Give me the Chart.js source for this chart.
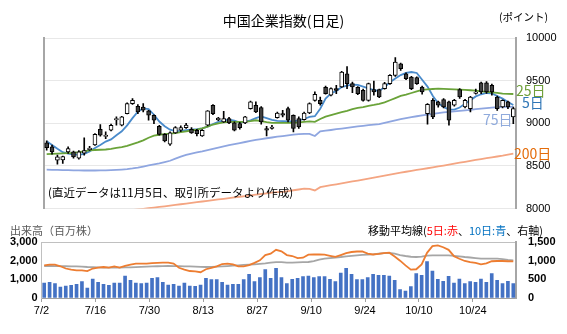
<!DOCTYPE html>
<html lang="ja">
<head>
<meta charset="utf-8">
<script src="https://cdn.jsdelivr.net/npm/chart.js@4.4.1/dist/chart.umd.min.js"></script>
<style>
  body { margin: 0; width: 567px; height: 334px; background: #fff; position: relative; overflow: hidden;
         font-family: "Noto Sans CJK JP", "Liberation Sans", sans-serif; }
  canvas { position: absolute; left: 0; }
  #priceChart { top: 0; }
  #volChart { top: 215px; }
  .txt { position: absolute; white-space: nowrap; }
</style>
</head>
<body>
<canvas id="priceChart" width="567" height="230"></canvas>
<canvas id="volChart" width="567" height="119"></canvas>

<div class="txt" style="left:0;width:567px;text-align:center;top:12px;font-size:14px;line-height:17px;color:#000;">中国企業指数(日足)</div>
<div class="txt" style="left:499px;top:10px;font-size:10.5px;line-height:13px;color:#000;">(ポイント)</div>
<div class="txt" style="left:48px;top:185px;font-size:11.5px;line-height:14px;color:#000;">(直近データは11月5日、取引所データより作成)</div>
<div class="txt" style="left:516px;top:82px;font-size:14px;line-height:16px;color:#6f9f3a;">25日</div>
<div class="txt" style="left:522px;top:94px;font-size:14px;line-height:16px;color:#2e75b6;">5日</div>
<div class="txt" style="left:483px;top:111px;font-size:14px;line-height:16px;color:#8faadc;">75日</div>
<div class="txt" style="left:514px;top:145px;font-size:14px;line-height:16px;color:#e46c0a;">200日</div>
<div class="txt" style="left:10px;top:223px;font-size:11px;line-height:14px;color:#595959;">出来高（百万株）</div>
<div class="txt" style="left:368px;top:223px;font-size:11px;line-height:14px;color:#000;">移動平均線(<span style="color:#ff0000">5日:赤</span>、<span style="color:#0070c0">10日:青</span>、右軸)</div>

<script>
// 日付目盛（10営業日ごと）
const tickLabels = ['7/2', '7/16', '7/30', '8/13', '8/27', '9/10', '9/24', '10/10', '10/24'];
const DAYS = 88;

// ローソク足
const opens = [8770,8723,8567,8570,8665,8665,8590,8650,8690,8745,8930,8845,8918,9040,8977,9113,9230,9199,9191,9145,
  9094,8965,8870,8755,8887,8918,8949,8930,8918,8850,8977,9211,9040,9016,9055,9004,8996,9004,9172,9211,
  9185,8938,8940,9066,9113,9172,9094,9055,9043,9120,9269,9269,9420,9328,9406,9425,9581,9464,9420,9386,
  9269,9395,9395,9406,9464,9562,9698,9581,9542,9535,9425,9113,9269,9250,9277,9250,9211,9395,9191,9172,
  9350,9475,9475,9445,9308,9191,9250,9074];
const highs = [8793,8743,8626,8614,8723,8675,8680,8830,8730,8880,8985,8900,8990,9074,9080,9240,9289,9220,9230,9152,
  9100,8977,8880,8900,8960,8970,9000,8950,8930,8925,9150,9220,9070,9140,9070,9016,9010,9080,9260,9250,
  9195,8965,8977,9130,9152,9191,9100,9074,9130,9240,9370,9308,9435,9415,9445,9610,9665,9484,9430,9400,
  9470,9495,9400,9480,9570,9770,9705,9590,9550,9545,9435,9230,9289,9260,9290,9260,9280,9406,9280,9316,
  9400,9484,9490,9460,9320,9275,9260,9191];
const lows = [8684,8637,8520,8528,8645,8590,8580,8626,8680,8740,8848,8820,8910,8977,8970,9110,9222,9113,9133,9035,
  8996,8860,8780,8740,8880,8900,8940,8880,8850,8845,8970,9100,9030,9010,8996,8910,8930,8996,9165,9125,
  8990,8850,8930,9060,9074,9016,8899,8938,9035,9113,9260,9211,9340,9320,9347,9420,9406,9360,9335,9260,
  9260,9328,9300,9400,9455,9550,9620,9510,9395,9455,9340,8990,9055,9190,9180,8977,9200,9290,9180,9133,
  9340,9347,9350,9330,9150,9180,9170,8996];
const closes = [8715,8665,8606,8610,8704,8606,8665,8680,8710,8870,8860,8860,8977,9055,9074,9230,9269,9133,9152,9094,
  9035,8870,8793,8887,8949,8949,8980,8887,8879,8918,9145,9113,9060,9055,9004,8918,8949,9074,9250,9133,
  9016,8918,8955,9120,9094,9035,8938,8957,9120,9230,9340,9230,9347,9406,9386,9601,9464,9425,9347,9269,
  9464,9367,9308,9464,9562,9718,9640,9523,9406,9464,9367,9222,9074,9211,9191,9035,9269,9308,9269,9308,
  9367,9367,9367,9367,9172,9269,9191,9172];

// 移動平均線（指数）
const ma5 = [8790,8745,8700,8660,8645,8635,8628,8640,8670,8710,8745,8785,8810,8860,8905,8975,9060,9135,9175,9165,
  9100,9020,8965,8925,8908,8910,8918,8925,8930,8940,8960,8990,9016,9035,9043,9030,9008,9015,9035,9060,
  9080,9060,9040,9027,9025,9023,9023,9035,9050,9074,9082,9170,9290,9350,9380,9425,9440,9452,9450,9430,
  9408,9390,9378,9425,9480,9525,9565,9590,9601,9590,9510,9430,9320,9235,9190,9160,9160,9185,9230,9270,
  9315,9340,9355,9350,9320,9289,9250,9215];
const ma25 = [8637,8640,8643,8646,8650,8653,8660,8670,8682,8686,8689,8692,8700,8710,8720,8735,8755,8775,8800,8830,
  8855,8865,8872,8878,8885,8895,8905,8915,8926,8940,8960,8985,8998,9010,9016,9016,9016,9017,9025,9035,
  9025,9012,9004,9004,9004,9004,9004,9010,9016,9023,9016,9050,9078,9095,9112,9130,9145,9165,9180,9190,
  9205,9215,9228,9245,9270,9295,9320,9335,9355,9375,9392,9398,9402,9406,9404,9401,9398,9395,9391,9387,
  9382,9375,9368,9362,9356,9348,9345,9343];
const ma75 = [8455,8453,8452,8450,8449,8448,8447,8446,8446,8446,8447,8448,8450,8453,8457,8462,8470,8480,8492,8505,
  8518,8530,8545,8560,8585,8608,8628,8645,8658,8670,8685,8700,8715,8730,8743,8755,8767,8780,8792,8805,
  8815,8824,8833,8842,8850,8858,8866,8872,8876,8875,8850,8905,8913,8921,8930,8938,8946,8955,8963,8970,
  8977,8984,8990,9005,9020,9035,9048,9061,9072,9082,9092,9102,9111,9120,9127,9134,9140,9146,9152,9158,
  9165,9172,9178,9184,9190,9191,9191,9192];
const ma200 = [7870,7877,7884,7891,7898,7905,7912,7919,7926,7933,7940,7947,7954,7961,7968,7975,7982,7989,7996,8003,
  8010,8018,8026,8034,8042,8050,8058,8066,8074,8082,8090,8098,8106,8114,8122,8130,8138,8146,8154,8162,
  8170,8178,8185,8191,8196,8205,8214,8223,8232,8230,8212,8250,8262,8273,8284,8295,8306,8317,8328,8339,
  8350,8362,8374,8386,8398,8409,8420,8431,8442,8452,8462,8472,8482,8493,8504,8515,8526,8537,8548,8559,
  8570,8580,8590,8600,8610,8620,8632,8643];

// 出来高（百万株）と移動平均
const volume = [804,840,768,590,643,679,732,875,536,1018,840,732,679,804,804,1179,947,804,768,804,
  1054,1089,840,697,732,643,804,643,625,697,1054,982,982,840,697,732,732,982,1268,875,
  1089,1518,1054,1590,1089,768,1000,1054,1143,1179,1089,1143,1143,1000,875,1340,1590,1268,982,982,
  1089,1268,1214,1214,1179,947,447,375,607,1304,1214,1947,1447,1000,893,1161,804,1018,768,875,
  840,1018,840,1304,947,768,893,768];
const vma5 = [875,893,893,850,790,760,741,741,720,790,815,830,815,845,815,860,895,920,920,920,
  935,940,947,945,920,810,760,723,714,690,770,810,848,910,920,900,848,848,880,940,
  1009,1150,1188,1290,1250,1150,1125,1070,1080,1160,1170,1165,1161,1130,1100,1150,1200,1232,1245,1250,
  1190,1165,1180,1200,1214,1110,1000,875,760,770,900,1210,1390,1411,1360,1290,1120,1050,991,960,
  938,902,930,985,991,991,985,982];
const vma10 = [857,857,855,853,851,848,845,840,830,825,820,815,813,812,813,818,823,828,832,838,
  845,850,855,857,855,852,848,848,840,833,830,835,842,848,855,865,875,885,895,902,
  915,928,945,962,960,950,947,952,960,964,990,1030,1054,1070,1085,1098,1115,1130,1143,1155,
  1163,1170,1185,1200,1205,1190,1150,1125,1105,1098,1110,1135,1143,1143,1143,1143,1130,1115,1098,1085,
  1070,1054,1054,1054,1054,1040,1020,1009];

const labels = Array.from({length: DAYS}, (_, i) => i % 10 === 0 ? tickLabels[i / 10] : '');
const numFont = { family: '"Liberation Sans", Arial, sans-serif', size: 11 };
const boldFont = { family: '"Liberation Sans", Arial, sans-serif', size: 11, weight: 'bold' };

Chart.defaults.animation = false;
Chart.defaults.plugins.legend.display = false;
Chart.defaults.plugins.tooltip.enabled = false;

function lineSet(data, color, width, yAxisID) {
    return {
        type: 'line', data: data, borderColor: color, borderWidth: width,
        pointRadius: 0, tension: 0, fill: false, yAxisID: yAxisID, order: 2
    };
}

// 左右の軸の縦位置をそろえ、左軸の目盛ラベルを最終位置から描く
const leftAxisSync = {
    id: 'leftAxisSync',
    afterLayout(chart) {
        const y = chart.scales.y, y1 = chart.scales.y1;
        y.top = y1.top;
        y.bottom = y1.bottom;
        y.height = y1.bottom - y1.top;
        y.configure();
        y._labelItems = null;
    },
    afterDraw(chart) {
        const s = chart.scales.y;
        const ctx = chart.ctx;
        ctx.save();
        ctx.font = 'bold 11px "Liberation Sans", Arial, sans-serif';
        ctx.fillStyle = '#000';
        ctx.textAlign = 'right';
        ctx.textBaseline = 'middle';
        s.ticks.forEach(t => {
            ctx.fillText(t.value.toLocaleString('en-US'), chart.chartArea.left - 4, s.getPixelForValue(t.value));
        });
        ctx.restore();
    }
};

// 下段：出来高
new Chart(document.getElementById('volChart'), {
    type: 'bar',
    data: {
        labels: labels.slice(),
        datasets: [
            lineSet(vma5, '#ed7d31', 1.8, 'y1'),
            lineSet(vma10, '#a6a6a6', 1.8, 'y1'),
            { data: volume, backgroundColor: '#4472c4', barThickness: 3, yAxisID: 'y', order: 3 }
        ]
    },
    options: {
        responsive: false,
        devicePixelRatio: 1,
        layout: { padding: { left: 0, top: 27, bottom: 16, right: 0 } },
        scales: {
            x: {
                offset: true,
                afterFit: s => { s.height = 20; },
                grid: {
                    offset: true, drawOnChartArea: false, tickLength: 4,
                    color: ctx => ctx.index % 10 === 0 ? '#a0a0a0' : 'rgba(0,0,0,0)'
                },
                border: { display: true, color: '#a0a0a0' },
                ticks: {
                    autoSkip: false, maxRotation: 0, labelOffset: -2.7, padding: 2,
                    color: '#000', font: { family: '"Liberation Sans", Arial, sans-serif', size: 11 }
                }
            },
            y: {
                position: 'left', min: 0, max: 3000,
                afterFit: s => { s.width = 41.5; },
                grid: { drawTicks: false, color: ctx => ctx.tick && ctx.tick.value === 3000 ? '#c0c0c0' : 'rgba(0,0,0,0)' },
                border: { display: true, color: '#c0c0c0' },
                ticks: { stepSize: 1000, display: false }
            },
            y1: {
                position: 'right', min: 0, max: 1500,
                afterFit: s => { s.width = 51; },
                grid: { display: false },
                border: { display: true, color: '#a6a6a6', width: 2 },
                ticks: {
                    stepSize: 500, padding: 4, color: '#000', font: boldFont,
                    callback: v => v.toLocaleString('en-US')
                }
            }
        }
    },
    plugins: [leftAxisSync]
});

// プロット領域を元図の位置に合わせる
function fitChartArea(chart, target) {
    for (let k = 0; k < 4; k++) {
        const a = chart.chartArea;
        const p = chart.options.layout.padding;
        p.top += target.top - a.top;
        p.bottom += a.bottom - target.bottom;
        p.left += target.left - a.left;
        p.right += a.right - target.right;
        chart.update();
    }
}

// 上段：ローソク足＋移動平均
const priceChart = new Chart(document.getElementById('priceChart'), {
    type: 'bar',
    data: {
        labels: labels,
        datasets: [
            {
                data: opens.map((o, i) => [o, closes[i]]),
                backgroundColor: opens.map((o, i) => closes[i] >= o ? '#ffffff' : '#404040'),
                borderColor: '#000', borderWidth: 1, borderSkipped: false,
                barThickness: 4, grouped: false, yAxisID: 'y', order: 0
            },
            {
                data: lows.map((l, i) => [l, highs[i]]),
                backgroundColor: '#000', barThickness: 1, grouped: false, yAxisID: 'y', order: 1
            },
            lineSet(ma200, '#f4a582', 1.8, 'y'),
            lineSet(ma75, '#8fa6e0', 1.8, 'y'),
            lineSet(ma25, '#6aa339', 1.8, 'y'),
            lineSet(ma5, '#4a8bcb', 1.8, 'y')
        ]
    },
    options: {
        responsive: false,
        devicePixelRatio: 1,
        layout: { padding: { left: 44, top: 38, bottom: 20, right: 0 } },
        scales: {
            x: { display: false, offset: true },
            y: {
                position: 'right', min: 8000, max: 10000,
                afterFit: s => { s.width = 51; },
                grid: { color: '#e8e8e8', drawTicks: false },
                border: { display: true, color: '#a6a6a6', width: 2 },
                ticks: { stepSize: 500, padding: 10, color: '#000', font: numFont, callback: v => String(v) }
            },
            yl: {
                position: 'left', min: 8000, max: 10000,
                afterFit: s => { s.width = 0; },
                grid: { display: false },
                border: { display: true, color: '#a6a6a6', width: 2 },
                ticks: { display: false }
            }
        }
    }
});
fitChartArea(priceChart, { left: 44, right: 516, top: 38, bottom: 208.5 });
</script>
</body>
</html>
